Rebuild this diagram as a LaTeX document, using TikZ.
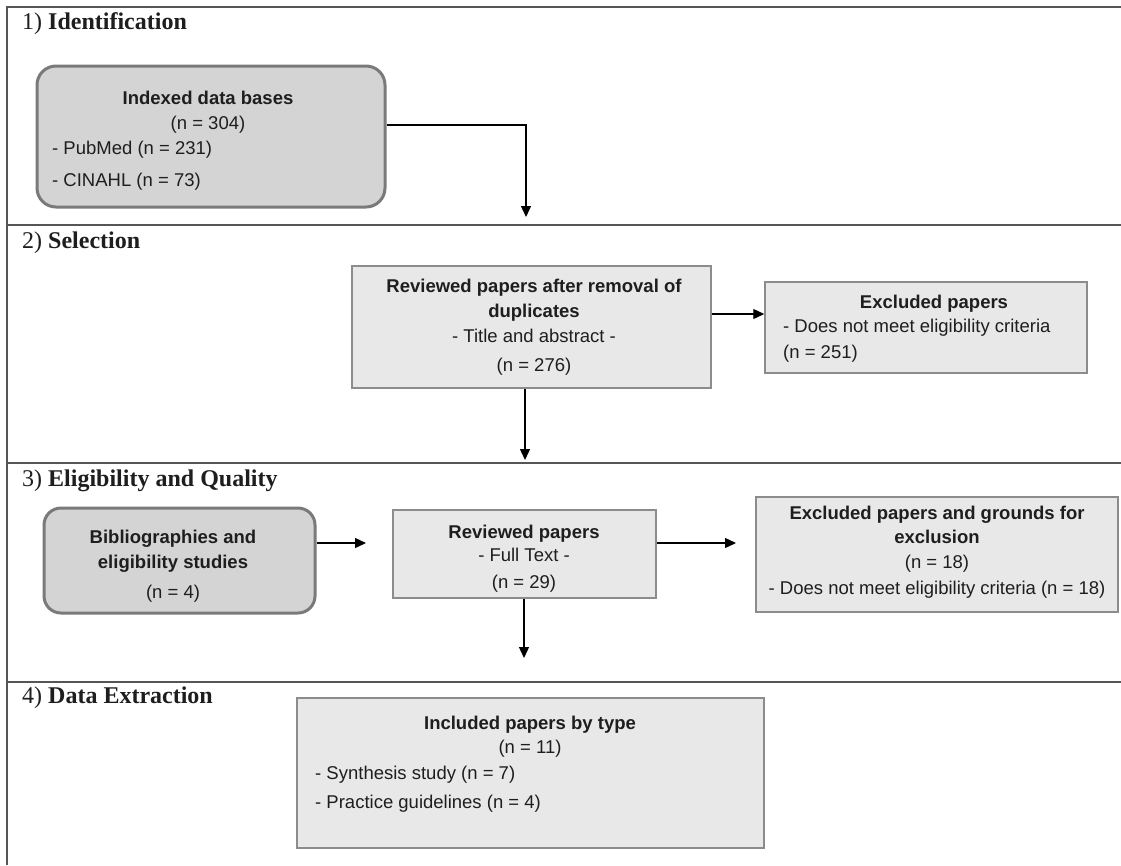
\documentclass[tikz,border=0pt]{standalone}
\usepackage{fontspec}
\setmainfont{Liberation Serif}
\newfontfamily\arial{Liberation Sans}
\usetikzlibrary{arrows.meta}
\definecolor{framecol}{HTML}{555555}
\definecolor{roundfill}{HTML}{D4D4D4}
\definecolor{roundborder}{HTML}{7A7A7A}
\definecolor{rectfill}{HTML}{E8E8E8}
\definecolor{rectborder}{HTML}{8C8C8C}
\definecolor{txtcol}{HTML}{1E1E1E}
\tikzset{
  frameline/.style={draw=framecol, line width=1.6pt},
  roundbox/.style={draw=roundborder, fill=roundfill, line width=3pt, rounded corners=19pt, inner sep=0pt},
  rectbox/.style={draw=rectborder, fill=rectfill, line width=1.5pt, inner sep=0pt},
  txt/.style={inner sep=0pt, anchor=base, yshift=-6.6pt, text=txtcol, font=\arial\fontsize{18.5}{22}\selectfont},
  txtl/.style={txt, anchor=base west},
  btxt/.style={txt, font=\arial\bfseries\fontsize{18.5}{22}\selectfont},
  heading/.style={inner sep=0pt, anchor=base west, yshift=-8pt, text=txtcol, font=\fontsize{24}{28}\selectfont},
  arr/.style={draw=black, line width=1.3pt, -{Triangle[length=11pt,width=10pt]}}
}
\begin{document}
\begin{tikzpicture}[x=1pt, y=-1pt]
\useasboundingbox (0,0) rectangle (1121,865);
\fill[white] (0,0) rectangle (1121,865);

% frame and section separators
\draw[frameline] (1121,7) -- (7,7) -- (7,865);
\draw[frameline] (7,225) -- (1121,225);
\draw[frameline] (7,463) -- (1121,463);
\draw[frameline] (7,682) -- (1121,682);

% headings
\node[heading] (h1) at (22,21) {1) \textbf{Identification}};
\node[heading] (h2) at (22,240) {2) \textbf{Selection}};
\node[heading] (h3) at (22,478) {3) \textbf{Eligibility and Quality}};
\node[heading] (h4) at (22,695) {4) \textbf{Data Extraction}};

% 1) Identification
\node[roundbox, minimum width=348pt, minimum height=141pt] (idb) at (211,136.5) {};
\node[btxt] (idb1) at (208,98) {Indexed data bases};
\node[txt] (idb2) at (208,123) {(n = 304)};
\node[txtl] (idb3) at (52,148) {- PubMed (n = 231)};
\node[txtl] (idb4) at (52,180) {- CINAHL (n = 73)};
\coordinate (t1) at (526,217);

% 2) Selection
\node[rectbox, minimum width=359pt, minimum height=122pt] (rev1) at (531.5,327) {};
\node[btxt] (rev1a) at (534,286) {Reviewed papers after removal of};
\node[btxt] (rev1b) at (534,311) {duplicates};
\node[txt] (rev1c) at (534,336) {- Title and abstract -};
\node[txt] (rev1d) at (534,365) {(n = 276)};

\node[rectbox, minimum width=322pt, minimum height=91pt] (exc1) at (926,327.5) {};
\node[btxt] (exc1a) at (934,302) {Excluded papers};
\node[txtl] (exc1b) at (783,326) {- Does not meet eligibility criteria};
\node[txtl] (exc1c) at (783,352) {(n = 251)};
\coordinate (t2) at (525,460);

% 3) Eligibility and Quality
\node[roundbox, rounded corners=17pt, minimum width=271pt, minimum height=105pt] (bib) at (179.5,560.5) {};
\node[btxt] (bib1) at (173,537) {Bibliographies and};
\node[btxt] (bib2) at (173,562) {eligibility studies};
\node[txt] (bib3) at (173,592) {(n = 4)};

\node[rectbox, minimum width=263pt, minimum height=88pt] (rev2) at (524.5,554) {};
\node[btxt] (rev2a) at (524,532) {Reviewed papers};
\node[txt] (rev2b) at (524,555) {- Full Text -};
\node[txt] (rev2c) at (524,582) {(n = 29)};

\node[rectbox, minimum width=362pt, minimum height=115pt] (exc2) at (937,554.5) {};
\node[btxt] (exc2a) at (937,513) {Excluded papers and grounds for};
\node[btxt] (exc2b) at (937,537) {exclusion};
\node[txt] (exc2c) at (937,562) {(n = 18)};
\node[txt] (exc2d) at (937,588) {- Does not meet eligibility criteria (n = 18)};
\coordinate (t3) at (524,658);
\coordinate (b3) at (366,543);
\coordinate (e3) at (736,543);

% 4) Data Extraction
\node[rectbox, minimum width=467pt, minimum height=150pt] (inc) at (530.5,773) {};
\node[btxt] (inc1) at (530,723) {Included papers by type};
\node[txt] (inc2) at (530,747) {(n = 11)};
\node[txtl] (inc3) at (315,773) {- Synthesis study (n = 7)};
\node[txtl] (inc4) at (315,802) {- Practice guidelines (n = 4)};

% connectors
\draw[arr] (idb.east |- 0,125) -| (t1);
\draw[arr] (rev1.east |- 0,314) -- (exc1.west |- 0,314);
\draw[arr] (rev1.south -| t2) -- (t2);
\draw[arr] (bib.east |- b3) -- (b3);
\draw[arr] (rev2.east |- e3) -- (e3);
\draw[arr] (rev2.south -| t3) -- (t3);
\end{tikzpicture}
\end{document}
